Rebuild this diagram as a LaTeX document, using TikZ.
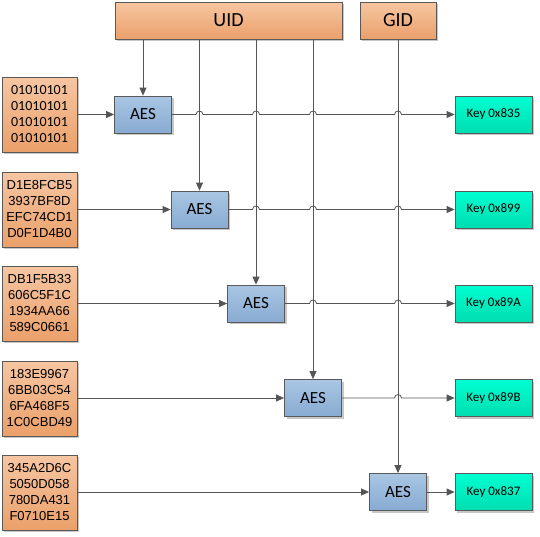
\documentclass[tikz,border=0pt]{standalone}
\usepackage{fontspec}
\setmainfont{Carlito}
\newfontfamily\hexfont{Liberation Sans}
\usetikzlibrary{shadows,arrows.meta,calc}
\definecolor{orT}{HTML}{F6C6A2}
\definecolor{orB}{HTML}{EBA06A}
\definecolor{blT}{HTML}{A9C6E3}
\definecolor{blB}{HTML}{88ABD2}
\definecolor{tlT}{HTML}{00FFD2}
\definecolor{tlB}{HTML}{00DDB0}
\definecolor{edgec}{HTML}{595959}
\definecolor{wirec}{HTML}{555555}
\newcommand\hp[2]{-- ($(#1.north |- #2.east)+(-3.5,0)$) .. controls +(0,-4.5) and +(0,-4.5) .. ($(#1.north |- #2.east)+(3.5,0)$)}
\tikzset{
 shbox/.style={draw=edgec, line width=0.8pt, inner sep=0pt,
   drop shadow={shadow xshift=2pt,shadow yshift=-2pt,fill=black,opacity=0.22}},
 rootbox/.style={shbox, top color=orT, bottom color=orB, minimum height=37pt,
   font=\fontsize{20}{24}\selectfont},
 databox/.style={shbox, top color=orT, bottom color=orB, minimum width=75pt,
   minimum height=75pt, align=center, font=\hexfont\fontsize{13}{16}\selectfont},
 aesbox/.style={shbox, top color=blT, bottom color=blB, minimum width=57pt,
   minimum height=37pt, font=\fontsize{17}{20}\selectfont},
 outbox/.style={shbox, top color=tlT, bottom color=tlB, minimum width=77pt,
   minimum height=37pt, font=\fontsize{13}{15}\selectfont},
 wire/.style={draw=wirec, line width=0.8pt},
 arr/.style={wire, -{Triangle[length=8pt,width=7pt]}}
}
\begin{document}
\begin{tikzpicture}[x=1pt,y=-1pt]
\useasboundingbox (0,0) rectangle (540,536);
% top sources
\node[rootbox, minimum width=227pt] (uid) at (228.5,20.5) {UID};
\node[rootbox, minimum width=76pt] (gid) at (398,20.5) {GID};
% data boxes
\node[databox, font=\fontsize{14}{16}\selectfont] (d1) at (39.5,114.5) {01010101\\01010101\\01010101\\01010101};
\node[databox] (d2) at (39.5,209.5) {D1E8FCB5\\3937BF8D\\EFC74CD1\\D0F1D4B0};
\node[databox] (d3) at (39.5,303.5) {DB1F5B33\\606C5F1C\\1934AA66\\589C0661};
\node[databox] (d4) at (39.5,398.5) {183E9967\\6BB03C54\\6FA468F5\\1C0CBD49};
\node[databox] (d5) at (39.5,492.5) {345A2D6C\\5050D058\\780DA431\\F0710E15};
% AES boxes
\node[aesbox] (a1) at (143,114.5) {AES};
\node[aesbox] (a2) at (199.5,209.5) {AES};
\node[aesbox] (a3) at (256,303.5) {AES};
\node[aesbox] (a4) at (313,398) {AES};
\node[aesbox] (a5) at (398,492) {AES};
% key boxes
\node[outbox] (k1) at (493.5,114.5) {Key 0x835};
\node[outbox] (k2) at (493.5,209.5) {Key 0x899};
\node[outbox] (k3) at (493.5,303.5) {Key 0x89A};
\node[outbox] (k4) at (493.5,398) {Key 0x89B};
\node[outbox] (k5) at (493.5,492) {Key 0x837};
% UID / GID feeds
\draw[arr] (a1.north |- uid.south) -- (a1.north);
\draw[arr] (a2.north |- uid.south) -- (a2.north);
\draw[arr] (a3.north |- uid.south) -- (a3.north);
\draw[arr] (a4.north |- uid.south) -- (a4.north);
\draw[arr] (a5.north |- gid.south) -- (a5.north);
% data inputs
\draw[arr] (d1.east |- a1.west) -- (a1.west);
\draw[arr] (d2.east |- a2.west) -- (a2.west);
\draw[arr] (d3.east |- a3.west) -- (a3.west);
\draw[arr] (d4.east |- a4.west) -- (a4.west);
\draw[arr] (d5.east |- a5.west) -- (a5.west);
% outputs with line jumps
\draw[arr] (a1.east) \hp{a2}{a1} \hp{a3}{a1} \hp{a4}{a1} \hp{a5}{a1} -- (k1.west |- a1.east);
\draw[arr] (a2.east) \hp{a3}{a2} \hp{a4}{a2} \hp{a5}{a2} -- (k2.west |- a2.east);
\draw[arr] (a3.east) \hp{a4}{a3} \hp{a5}{a3} -- (k3.west |- a3.east);
\draw[arr] (a4.east) \hp{a5}{a4} -- (k4.west |- a4.east);
\draw[arr] (a5.east) -- (k5.west |- a5.east);
\end{tikzpicture}
\end{document}
